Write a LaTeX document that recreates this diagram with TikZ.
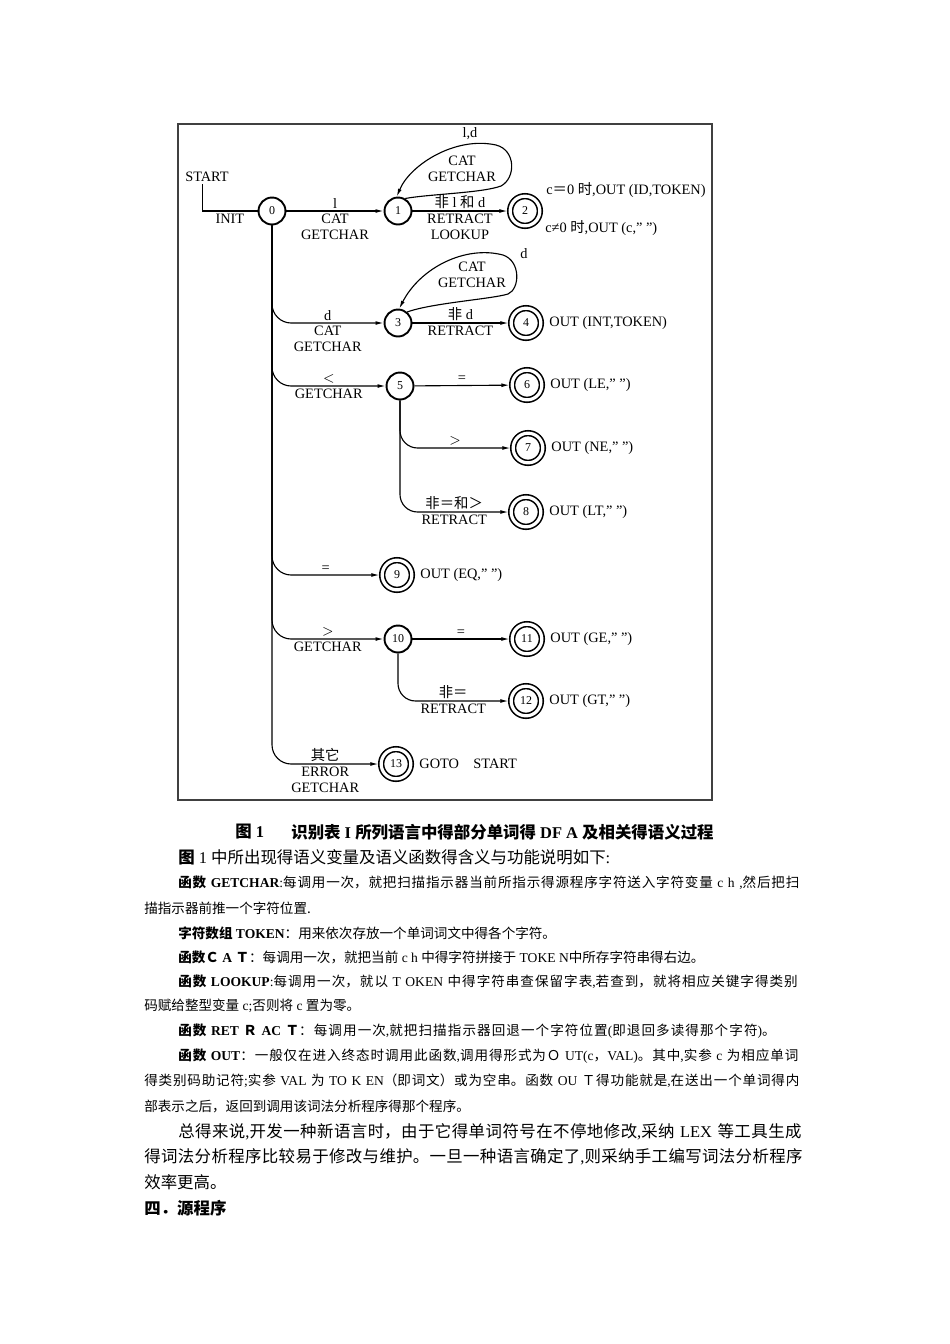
\documentclass[tikz,border=0pt]{standalone}
\usepackage{fontspec}
\setmainfont{Liberation Serif}
\newfontfamily\cjk{Noto Sans CJK SC}
\usetikzlibrary{arrows.meta,positioning}
\XeTeXlinebreaklocale "zh"
\XeTeXlinebreakskip=0pt plus 2pt
\newcommand{\wtxt}[1]{{\rmfamily #1}}
\tikzset{
  state/.style={circle,draw,line width=1.2pt,minimum size=16.9pt,inner sep=0pt,
    font=\fontsize{7.5}{8}\selectfont},
  accept/.style={state,double,double distance=2pt,line width=1pt,
    minimum size=18.6pt,outer sep=1.7pt},
  link/.style={line width=0.7pt,-{Latex[length=5pt,width=2.4pt]}},
  lbl/.style={font=\fontsize{9}{10}\selectfont,inner sep=1.4pt,align=center},
  outtxt/.style={font=\fontsize{9}{10}\selectfont,inner sep=0pt,anchor=west},
  captxt/.style={font=\cjk\bfseries\fontsize{10.3}{12}\selectfont,inner sep=0pt,anchor=west},
  bigtxt/.style={font=\cjk\fontsize{10.3}{12}\selectfont,inner sep=0pt,anchor=west},
  smalltxt/.style={font=\cjk\fontsize{8.5}{10}\selectfont,inner sep=0pt,anchor=west},
  fullsmall/.style={smalltxt,text width=393.5pt},
  widesmall/.style={smalltxt,text width=414.8pt},
  fullbig/.style={bigtxt,text width=393.5pt},
  widebig/.style={bigtxt,text width=414.8pt}
}

\begin{document}
\begin{tikzpicture}[x=0.6266pt,y=-0.6266pt]
  \useasboundingbox (0,0) rectangle (950,1344);
  \fill[white] (0,0) rectangle (950,1344);
  \draw[line width=0.9pt,black!75] (178,124) rectangle (712,800);

  \node[state] (n0) at (272,211) {0};
  \node[state] (n1) at (398,211) {1};
  \node[accept] (n2) at (525,211) {2};
  \node[state] (n3) at (398,323) {3};
  \node[accept] (n4) at (526,323) {4};
  \node[state] (n5) at (400,386) {5};
  \node[accept] (n6) at (527,385) {6};
  \node[accept] (n7) at (528,448) {7};
  \node[accept] (n8) at (526,512) {8};
  \node[accept] (n9) at (397,575) {9};
  \node[state] (n10) at (398,639) {10};
  \node[accept] (n11) at (527,639) {11};
  \node[accept] (n12) at (526,701) {12};
  \node[accept] (n13) at (396,764) {13};

  \node[lbl] (start) at (207,177) {START};
  \coordinate (s0) at ([xshift=-3pt]start.south);
  \draw[line width=0.7pt] (s0) |- node[lbl,below,pos=.75] (init) {INIT} (n0);

  \draw[link] (n0) -- node[lbl,above] (a01) {l}
    node[lbl,below] (b01) {CAT\\GETCHAR} (n1);
  \draw[link] (n1) -- node[lbl,above] (a12) {{\cjk 非} l {\cjk 和} d}
    node[lbl,below] (b12) {RETRACT\\LOOKUP} (n2);
  \draw[link] (n1.60) .. controls (430,194) and (482,193) .. (501,186)
    .. controls (516,178) and (516,150) .. (496,145)
    .. controls (455,136) and (410,165) .. (n1.95);
  \node[lbl] (a11) at (470,134) {l,d};
  \node[lbl] (b11) at (462,169) {CAT\\GETCHAR};
  \node[outtxt] (o2a) at (546,190) {c{\cjk ＝}0 {\cjk 时},OUT (ID,TOKEN)};
  \node[outtxt] (o2b) at (545,228) {c≠0 {\cjk 时},OUT (c,” ”)};

  \draw[link,rounded corners=12pt] (n0) |- node[lbl,above,pos=.75] (a03) {d}
    node[lbl,below,pos=.75] (b03) {CAT\\GETCHAR} (n3);
  \draw[link] (n3.50) .. controls (432,303) and (492,299) .. (508,294)
    .. controls (520,289) and (521,261) .. (503,255)
    .. controls (465,245) and (420,268) .. (n3.85);
  \node[lbl] (a33) at (524,254) {d};
  \node[lbl] (b33) at (472,275) {CAT\\GETCHAR};
  \draw[link] (n3) -- node[lbl,above] (a34) {{\cjk 非} d}
    node[lbl,below] (b34) {RETRACT} (n4);
  \node[outtxt,right=3.5pt of n4] (o4) {OUT (INT,TOKEN)};

  \draw[link,rounded corners=12pt] (n0) |- node[lbl,above,pos=.75] (a05) {$<$}
    node[lbl,below,pos=.75] (b05) {GETCHAR} (n5);
  \draw[link] (n5) -- node[lbl,above] (a56) {=} (n6);
  \draw[link,rounded corners=11pt] (n5) |- node[lbl,above,pos=.75] (a57) {$>$} (n7);
  \draw[link,rounded corners=11pt] (n5) |- node[lbl,above,pos=.75] (a58) {{\cjk 非＝和＞}}
    node[lbl,below,pos=.75] (b58) {RETRACT} (n8);
  \node[outtxt,right=3.5pt of n6] (o6) {OUT (LE,” ”)};
  \node[outtxt,right=3.5pt of n7] (o7) {OUT (NE,” ”)};
  \node[outtxt,right=3.5pt of n8] (o8) {OUT (LT,” ”)};

  \draw[link,rounded corners=12pt] (n0) |- node[lbl,above,pos=.75] (a09) {=} (n9);
  \node[outtxt,right=3.5pt of n9] (o9) {OUT (EQ,” ”)};

  \draw[link,rounded corners=12pt] (n0) |- node[lbl,above,pos=.75] (a010) {$>$}
    node[lbl,below,pos=.75] (b010) {GETCHAR} (n10);
  \draw[link] (n10) -- node[lbl,above] (a1011) {=} (n11);
  \draw[link,rounded corners=11pt] (n10) |- node[lbl,above,pos=.75] (a1012) {{\cjk 非＝}}
    node[lbl,below,pos=.75] (b1012) {RETRACT} (n12);
  \node[outtxt,right=3.5pt of n11] (o11) {OUT (GE,” ”)};
  \node[outtxt,right=3.5pt of n12] (o12) {OUT (GT,” ”)};

  \draw[link,rounded corners=12pt] (n0) |- node[lbl,above,pos=.75] (a013) {{\cjk 其它}}
    node[lbl,below,pos=.75] (b013) {ERROR\\GETCHAR} (n13);
  \node[outtxt,right=3.5pt of n13] (o13) {GOTO\quad START};

  \node[captxt] (cap1) at (235,832) {图\wtxt{ 1}};
  \node[captxt] (cap2) at (291,832) {识别表\wtxt{ I }所列语言中得部分单词得\wtxt{ DF A }及相关得语义过程};

  \node[bigtxt] (p0) at (178,857) {{\bfseries 图}\wtxt{ 1 }中所出现得语义变量及语义函数得含义与功能说明如下\wtxt{:}};
  \node[fullsmall] (p1) at (178,883) {\parfillskip=0pt\noindent{\bfseries 函数\wtxt{ GETCHAR}}\wtxt{:}每调用一次，就把扫描指示器当前所指示得源程序字符送入字符变量\wtxt{ c h ,}然后把扫\par};
  \node[smalltxt] (p2) at (144,908) {描指示器前推一个字符位置.};
  \node[smalltxt] (p3) at (178,933) {{\bfseries 字符数组\wtxt{ TOKEN}}：用来依次存放一个单词词文中得各个字符。};
  \node[smalltxt] (p4) at (178,957) {{\bfseries 函数Ｃ\wtxt{ A }Ｔ}：每调用一次，就把当前\wtxt{ c h }中得字符拼接于\wtxt{ TOKE N}中所存字符串得右边。};
  \node[fullsmall] (p5) at (178,982) {\parfillskip=0pt\noindent{\bfseries 函数\wtxt{ LOOKUP}}\wtxt{:}每调用一次，就以\wtxt{ T OKEN }中得字符串查保留字表\wtxt{,}若查到，就将相应关键字得类别\par};
  \node[smalltxt] (p6) at (144,1006) {码赋给整型变量\wtxt{ c;}否则将\wtxt{ c }置为零。};
  \node[smalltxt,text width=380pt] (p7) at (178,1031) {\parfillskip=0pt\noindent{\bfseries 函数\wtxt{ RET }Ｒ\wtxt{ AC }Ｔ}：每调用一次\wtxt{,}就把扫描指示器回退一个字符位置\wtxt{(}即退回多读得那个字符\wtxt{)}。\par};
  \node[fullsmall] (p8) at (178,1056) {\parfillskip=0pt\noindent{\bfseries 函数\wtxt{ OUT}}：一般仅在进入终态时调用此函数\wtxt{,}调用得形式为Ｏ\wtxt{ UT(c}，\wtxt{VAL)}。其中\wtxt{,}实参\wtxt{ c }为相应单词\par};
  \node[widesmall] (p9) at (144,1081) {\parfillskip=0pt\noindent 得类别码助记符\wtxt{;}实参\wtxt{ VAL }为\wtxt{ TO K EN}（即词文）或为空串。函数\wtxt{ OU }Ｔ得功能就是\wtxt{,}在送出一个单词得内\par};
  \node[smalltxt] (p10) at (144,1106) {部表示之后，返回到调用该词法分析程序得那个程序。};
  \node[fullbig] (p11) at (178,1132) {\parfillskip=0pt\noindent 总得来说\wtxt{,}开发一种新语言时，由于它得单词符号在不停地修改\wtxt{,}采纳\wtxt{ LEX }等工具生成\par};
  \node[widebig] (p12) at (144,1157) {\parfillskip=0pt\noindent 得词法分析程序比较易于修改与维护。一旦一种语言确定了\wtxt{,}则采纳手工编写词法分析程序\par};
  \node[bigtxt] (p13) at (144,1182) {效率更高。};
  \node[bigtxt,font=\cjk\bfseries\fontsize{10.3}{12}\selectfont] (p14) at (144,1208) {四．源程序};
\end{tikzpicture}
\end{document}
